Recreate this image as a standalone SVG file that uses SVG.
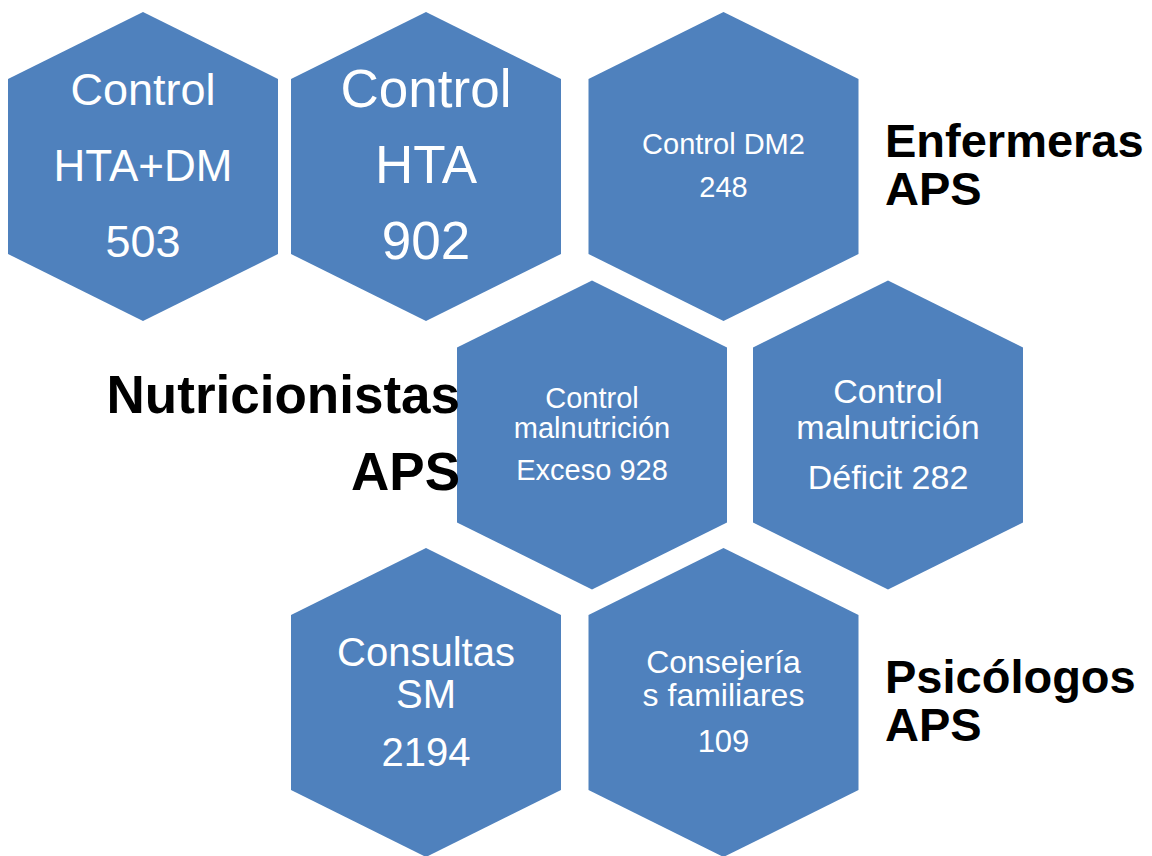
<svg xmlns="http://www.w3.org/2000/svg" xmlns:xlink="http://www.w3.org/1999/xlink" width="1152" height="856" viewBox="0 0 1152 856">
<style>
.hex{fill:#4F81BD}
.t{font-family:"Liberation Sans",Arial,sans-serif;fill:#FFFFFF;text-anchor:middle}
.lab{font-family:"Liberation Sans",Arial,sans-serif;font-weight:bold;fill:#000000}
</style>
<defs>
<path id="hx" d="M0,-154.5 L135,-87.5 L135,87.5 L0,154.5 L-135,87.5 L-135,-87.5 Z"/>
</defs>
<rect width="1152" height="856" fill="#FFFFFF"/>
<g id="connectors"/>
<g id="hex-hta-dm">
<use xlink:href="#hx" href="#hx" class="hex" x="143" y="166.5"/>
<text class="t" font-size="45" x="143" y="105">Control</text>
<text class="t" font-size="44" x="143" y="181">HTA+DM</text>
<text class="t" font-size="45" x="143" y="257">503</text>
</g>
<g id="hex-hta">
<use xlink:href="#hx" href="#hx" class="hex" x="426" y="166.5"/>
<text class="t" font-size="53" x="426" y="107">Control</text>
<text class="t" font-size="53" x="426" y="183">HTA</text>
<text class="t" font-size="53" x="426" y="259">902</text>
</g>
<g id="hex-dm2">
<use xlink:href="#hx" href="#hx" class="hex" x="723.5" y="166.5"/>
<text class="t" font-size="29" x="723.5" y="154">Control DM2</text>
<text class="t" font-size="29" x="723.5" y="197">248</text>
</g>
<g id="hex-exceso">
<use xlink:href="#hx" href="#hx" class="hex" x="592" y="435"/>
<text class="t" font-size="29" x="592" y="408">Control</text>
<text class="t" font-size="29" x="592" y="437.5">malnutrición</text>
<text class="t" font-size="29" x="592" y="479.5">Exceso 928</text>
</g>
<g id="hex-deficit">
<use xlink:href="#hx" href="#hx" class="hex" x="888" y="435"/>
<text class="t" font-size="34" x="888" y="403">Control</text>
<text class="t" font-size="34" x="888" y="438.5">malnutrición</text>
<text class="t" font-size="34" x="888" y="488.5">Déficit 282</text>
</g>
<g id="hex-consultas">
<use xlink:href="#hx" href="#hx" class="hex" x="426" y="702.5"/>
<text class="t" font-size="40" x="426" y="666">Consultas</text>
<text class="t" font-size="40" x="426" y="708">SM</text>
<text class="t" font-size="40" x="426" y="766">2194</text>
</g>
<g id="hex-consejerias">
<use xlink:href="#hx" href="#hx" class="hex" x="723.5" y="702.5"/>
<text class="t" font-size="32" x="723.5" y="673">Consejería</text>
<text class="t" font-size="32" x="723.5" y="706">s familiares</text>
<text class="t" font-size="31" x="723.5" y="752">109</text>
</g>
<g id="label-enfermeras">
<text class="lab" font-size="47" x="885" y="157">Enfermeras</text>
<text class="lab" font-size="47" x="885" y="205">APS</text>
</g>
<g id="label-nutricionistas">
<text class="lab" font-size="53" x="460" y="413" text-anchor="end">Nutricionistas</text>
<text class="lab" font-size="53" x="460" y="490" text-anchor="end">APS</text>
</g>
<g id="label-psicologos">
<text class="lab" font-size="47" x="885" y="693">Psicólogos</text>
<text class="lab" font-size="47" x="885" y="741">APS</text>
</g>
</svg>
